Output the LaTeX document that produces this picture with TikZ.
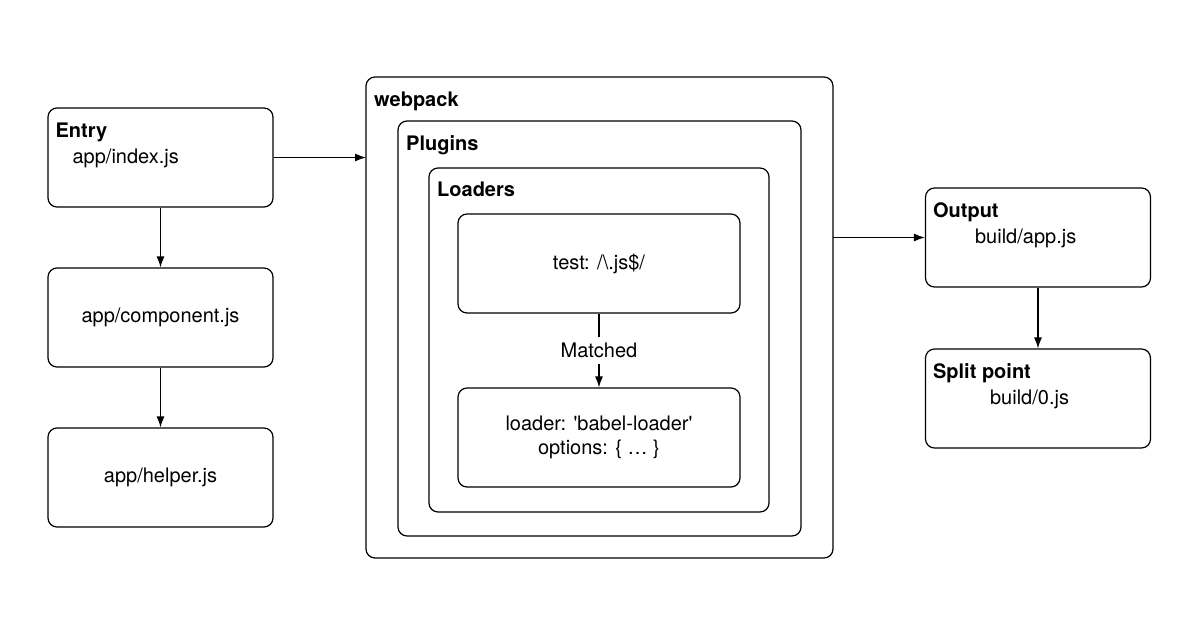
\documentclass[tikz,border=0pt]{standalone}
\usepackage{fontspec}
\setmainfont{TeX Gyre Heros}
\usetikzlibrary{positioning,arrows.meta}
\begin{document}
\begin{tikzpicture}[
      x=1pt, y=-1pt,
      % rounded boxes
      box/.style={draw, rounded corners=9pt, line width=1.2pt, inner sep=0pt,
                  minimum width=225pt, minimum height=99pt, font=\fontsize{20}{24}\selectfont, align=center},
      frame/.style={draw, rounded corners=9pt, line width=1.2pt},
      title/.style={anchor=north west, inner sep=0pt, font=\bfseries\fontsize{20}{24}\selectfont},
      sub/.style={anchor=north west, inner sep=0pt, font=\fontsize{20}{24}\selectfont},
      arr/.style={-{Latex[length=11pt,width=8pt]}, line width=1.2pt}
  ]
  \useasboundingbox (0,0) rectangle (1200,630);

  % left column
  \node[box] (entry)     at (160.5,157.5) {};
  \node[title] at ([shift={(8,15)}]entry.north west) {Entry};
  \node[sub]   at ([shift={(25,41)}]entry.north west) {app/index.js};
  \node[box] (component) at (160.5,317.5) {app/component.js};
  \node[box] (helper)    at (160.5,477.5) {app/helper.js};

  % webpack frames
  \draw[frame] (366,77) rectangle (833,558);
  \coordinate (wpin)  at (366,157.5);
  \coordinate (wpout) at (833,237.5);
  \node[title] at (374,92) {webpack};
  \draw[frame] (398,121) rectangle (801,536);
  \node[title] at (406,135) {Plugins};
  \draw[frame] (429,168) rectangle (769,512);
  \node[title] at (437,182) {Loaders};

  \node[box, minimum width=282pt] (test)   at (599,263.5) {test: /\textbackslash.js\$/};
  \node[box, minimum width=282pt] (loader) at (599,437.5) {loader: \textquotesingle babel-loader\textquotesingle\\options: \{ … \}};

  % right column
  \node[box] (output) at (1038,237.5) {};
  \node[title] at ([shift={(8,15)}]output.north west) {Output};
  \node[sub]   at ([shift={(50,41)}]output.north west) {build/app.js};
  \node[box] (split)  at (1038,398.5) {};
  \node[title] at ([shift={(8,15)}]split.north west) {Split point};
  \node[sub]   at ([shift={(65,41)}]split.north west) {build/0.js};

  % connectors
  \draw[arr] (entry.east) -- (wpin);
  \draw[arr] (entry) -- (component);
  \draw[arr] (component) -- (helper);
  \draw[arr] (wpout) -- (output.west);
  \draw[arr] (output) -- (split);
  \draw[arr] (test) -- node[fill=white, inner ysep=6pt, font=\fontsize{20}{24}\selectfont] {Matched} (loader);
\end{tikzpicture}
\end{document}
